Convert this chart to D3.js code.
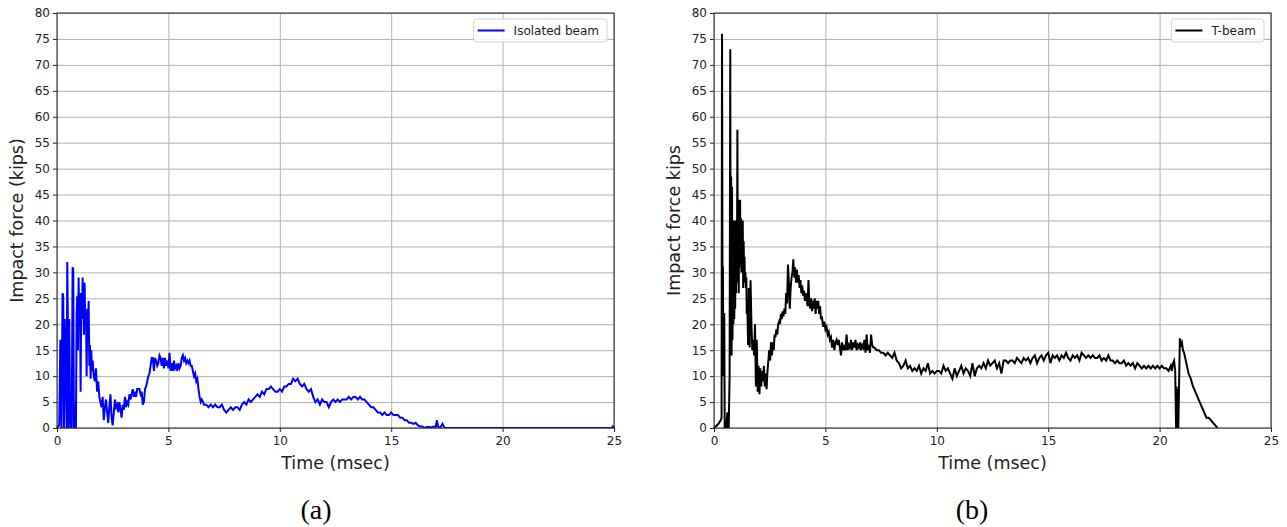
<!DOCTYPE html>
<html>
<head>
<meta charset="utf-8">
<script src="https://cdn.jsdelivr.net/npm/d3@7"></script>
<style>
  body { margin: 0; background: #fff; }
  svg { display: block; }
  .tick text { font-family: "DejaVu Sans", sans-serif; font-size: 12px; fill: #222; }
  .grid line { stroke: #b0b0b0; stroke-width: 1; }
  .grid path { display: none; }
</style>
</head>
<body>
<svg width="1287" height="527"></svg>
<script>

//// DATA ////

// x and y ticks shared by both panels
var xTicks = [0, 5, 10, 15, 20, 25];
var yTicks = [0, 5, 10, 15, 20, 25, 30, 35, 40, 45, 50, 55, 60, 65, 70, 75, 80];

// (a) isolated beam: time (msec), impact force (kips)
var isoTime = [0, 0.1, 0.15, 0.2, 0.25, 0.28, 0.31, 0.35, 0.4, 0.43, 0.46, 0.49, 0.52, 0.55, 0.58, 0.62, 0.66, 0.7, 0.73, 0.76,
  0.79, 0.82, 0.85, 0.88, 0.91, 0.94, 0.97, 1.0, 1.03, 1.06, 1.09, 1.12, 1.15, 1.18, 1.21, 1.24, 1.27, 1.3, 1.33, 1.36,
  1.39, 1.42, 1.45, 1.48, 1.51, 1.54, 1.57, 1.6, 1.65, 1.7, 1.75, 1.8, 1.85, 1.9, 1.95, 2.0, 2.05, 2.1, 2.15, 2.2,
  2.25, 2.3, 2.35, 2.4, 2.45, 2.5, 2.55, 2.6, 2.65, 2.7, 2.75, 2.8, 2.85, 2.9, 2.95, 3.0, 3.05, 3.1, 3.15, 3.2,
  3.25, 3.3, 3.4, 3.45, 3.5, 3.55, 3.6, 3.7, 3.75, 3.8, 3.85, 3.9, 3.95, 4.0, 4.05, 4.1, 4.15, 4.2, 4.25, 4.3,
  4.35, 4.4, 4.45, 4.5, 4.55, 4.6, 4.65, 4.7, 4.75, 4.8, 4.85, 4.9, 4.95, 5.0, 5.05, 5.1, 5.15, 5.2, 5.25, 5.3,
  5.35, 5.4, 5.45, 5.5, 5.55, 5.6, 5.65, 5.7, 5.75, 5.8, 5.85, 5.9, 5.95, 6.0, 6.05, 6.1, 6.15, 6.2, 6.25, 6.3,
  6.35, 6.4, 6.45, 6.5, 6.6, 6.7, 6.8, 6.9, 7.0, 7.1, 7.2, 7.3, 7.4, 7.5, 7.6, 7.7, 7.8, 7.9, 8.0, 8.1,
  8.2, 8.3, 8.4, 8.5, 8.6, 8.7, 8.8, 8.9, 9.0, 9.1, 9.2, 9.3, 9.4, 9.5, 9.6, 9.7, 9.8, 9.9, 10.0, 10.1,
  10.2, 10.3, 10.4, 10.5, 10.6, 10.7, 10.8, 10.9, 11.0, 11.1, 11.2, 11.3, 11.4, 11.5, 11.6, 11.7, 11.8, 11.9, 12.0, 12.1,
  12.2, 12.3, 12.4, 12.5, 12.6, 12.7, 12.8, 12.9, 13.0, 13.1, 13.2, 13.3, 13.4, 13.5, 13.6, 13.7, 13.8, 13.9, 14.0, 14.1,
  14.2, 14.3, 14.4, 14.5, 14.6, 14.7, 14.8, 14.9, 15.0, 15.1, 15.2, 15.3, 15.4, 15.5, 15.6, 15.7, 15.8, 15.9, 16.0, 16.1,
  16.2, 16.3, 16.4, 16.5, 16.6, 16.7, 16.8, 16.9, 17.0, 17.05, 17.1, 17.2, 17.3, 17.4, 17.5, 24.9, 24.95, 25];
var isoForce = [0, 0.5, 17, 0, 26, 25.5, 0, 21, 9, 0, 32, 20, 0, 21, 6, 0, 0, 31, 30.5, 0,
  0, 5, 0, 22, 25.5, 15, 29, 20, 26, 7, 26, 21, 29, 24, 18, 28, 20, 22.5, 10, 23,
  17, 24.5, 12, 16, 9.5, 15, 11, 13, 10, 9, 11.5, 7, 9, 6, 5, 4, 6, 1.5, 4, 5.5,
  3, 1, 4, 6.5, 2, 0.5, 3, 5.5, 4, 4.5, 3, 5, 3.5, 2, 4.5, 3.5, 6, 4, 5, 4.5,
  6.5, 5.5, 7.5, 6, 7, 6, 7.5, 7.5, 6.5, 7, 4.5, 5, 7.5, 8, 9, 10, 10.5, 12, 13.5, 13.5,
  11, 13.5, 13, 12, 12.5, 14, 13.5, 12, 13.5, 11.5, 13.5, 12, 13, 11.5, 14.5, 11, 12.5, 11, 13, 11.5,
  12, 11, 12.5, 11.5, 12, 13.5, 14, 13, 13.5, 12.5, 13, 12.5, 13, 12, 12, 11, 10, 10.5, 9, 9.5,
  7.5, 6, 5, 5.5, 4.5, 4.5, 4, 4.5, 4, 4.5, 4, 4, 4.5, 3.5, 3, 3.5, 4, 3.5, 4, 4,
  3.5, 4.5, 5, 4.5, 5.5, 5, 5.5, 6, 6.5, 6, 7, 6.5, 7.5, 7.5, 8, 7.5, 7, 7, 7.5, 7,
  8, 8, 8.5, 8.5, 9.5, 9, 9.5, 8.5, 8, 8.5, 7.5, 7, 7.5, 6, 5, 5.5, 4.5, 5.5, 5, 5,
  4, 5, 5.5, 5, 5.5, 5, 5.5, 5.5, 5.5, 6, 5.5, 6, 6, 5.5, 6, 5.5, 5.5, 5, 4.5, 4,
  4, 3.5, 3, 3, 2.5, 3, 2.5, 2.5, 3, 2.5, 2.5, 2.5, 2, 2, 1.5, 1.5, 1, 1, 0.8, 1,
  0.5, 0.3, 0.3, 0, 0.2, 0.2, 0.1, 0.3, 0.2, 1.5, 0.3, 0, 0.8, 0, 0, 0, 0.3, 0];

// (b) T-beam: time (msec), impact force (kips)
var tbTime = [0, 0.1, 0.2, 0.3, 0.34, 0.36, 0.38, 0.4, 0.42, 0.44, 0.46, 0.48, 0.55, 0.6, 0.62, 0.66, 0.7,
  0.73, 0.75, 0.77, 0.79, 0.81, 0.83, 0.85, 0.87, 0.89, 0.91, 0.93, 0.95, 0.97, 0.99, 1.01, 1.03, 1.05, 1.07, 1.09,
  1.11, 1.13, 1.15, 1.17, 1.19, 1.21, 1.23, 1.25, 1.27, 1.29, 1.31, 1.33, 1.35, 1.37, 1.39, 1.41, 1.43, 1.45, 1.47,
  1.5, 1.53, 1.56, 1.6, 1.64, 1.68,
  1.72, 1.76, 1.8, 1.84, 1.88, 1.92, 1.96, 2.0, 2.04, 2.08,
  2.12, 2.16, 2.2, 2.24, 2.28, 2.32, 2.36, 2.4, 2.44, 2.48, 2.52, 2.56, 2.6, 2.64, 2.68, 2.72, 2.76, 2.8, 2.84, 2.88,
  2.92, 2.96, 3.0, 3.04, 3.08, 3.12, 3.16, 3.2, 3.24, 3.28, 3.32, 3.36, 3.4, 3.44, 3.48, 3.52, 3.56, 3.6, 3.64, 3.68,
  3.72, 3.76, 3.8, 3.84, 3.88, 3.92, 3.96, 4.0, 4.04, 4.08, 4.12, 4.16, 4.2, 4.24, 4.28, 4.32, 4.36, 4.4, 4.44, 4.48,
  4.52, 4.56, 4.6, 4.64, 4.68, 4.72, 4.76, 4.8, 4.84, 4.9, 4.95, 5.0, 5.05, 5.1, 5.15, 5.2, 5.25, 5.3, 5.35, 5.4,
  5.45, 5.5, 5.55, 5.6, 5.65, 5.7, 5.75, 5.8, 5.85, 5.9, 5.95, 6.0, 6.05, 6.1, 6.15, 6.2, 6.25, 6.3, 6.35, 6.4,
  6.45, 6.5, 6.55, 6.6, 6.65, 6.7, 6.75, 6.8, 6.85, 6.9, 6.95, 7.0, 7.05, 7.1, 7.15, 7.2, 7.3, 7.4, 7.5, 7.6,
  7.7, 7.8, 7.9, 8.0, 8.1, 8.2, 8.3, 8.4, 8.5, 8.6, 8.7, 8.8, 8.9, 9.0, 9.1, 9.2, 9.3, 9.4, 9.5, 9.6,
  9.7, 9.8, 9.9, 10.0, 10.1, 10.2, 10.3, 10.4, 10.5, 10.6, 10.7, 10.8, 10.9, 11.0, 11.1, 11.2, 11.3, 11.4, 11.5, 11.6,
  11.7, 11.8, 11.9, 12.0, 12.1, 12.2, 12.3, 12.4, 12.5, 12.6, 12.7, 12.8, 12.9, 13.0, 13.1, 13.2, 13.3, 13.4, 13.5, 13.6,
  13.7, 13.8, 13.9, 14.0, 14.1, 14.2, 14.3, 14.4, 14.5, 14.6, 14.7, 14.8, 14.9, 15.0, 15.1, 15.2, 15.3, 15.4, 15.5, 15.6,
  15.7, 15.8, 15.9, 16.0, 16.1, 16.2, 16.3, 16.4, 16.5, 16.6, 16.7, 16.8, 16.9, 17.0, 17.1, 17.2, 17.3, 17.4, 17.5, 17.6,
  17.7, 17.8, 17.9, 18.0, 18.1, 18.2, 18.3, 18.4, 18.5, 18.6, 18.7, 18.8, 18.9, 19.0, 19.1, 19.2, 19.3, 19.4, 19.5, 19.6,
  19.7, 19.8, 19.9, 20.0, 20.1, 20.2, 20.3, 20.4, 20.5, 20.55, 20.6, 20.65, 20.7, 20.74, 20.76, 20.78, 20.8, 20.82, 20.84, 20.88,
  20.91, 20.95, 21.0, 21.05, 21.1, 21.2, 21.3, 21.4, 21.5, 21.6, 21.7, 21.8, 21.9, 22.0, 22.1, 22.2, 22.3, 22.4, 22.5, 22.6];
var tbForce = [0, 0.4, 0.8, 1.5, 2, 76, 31, 31, 10, 22, 22, 0, 0, 3, 0, 0, 10,
  73, 15, 48.5, 14, 46.5, 17, 35, 20, 40, 21, 33, 23, 40, 26, 35, 28, 57.5, 30, 44,
  26, 41, 35, 44, 31, 40.5, 30, 40, 33, 40, 27, 36, 30, 33, 28, 30, 27, 29, 22,
  23, 16, 27, 15.5, 28.5, 20,
  15, 17, 14, 20, 8, 17, 7, 12, 6.5, 11.5,
  8, 11, 9, 12, 8, 10.5, 7.5, 11, 13, 15, 13, 16.5, 14, 16.5, 15, 18, 17.5, 19, 18, 20,
  20.5, 20, 22, 21, 22.5, 21.5, 23, 22, 26, 24, 31.5, 28, 23, 27, 29, 30, 32.5, 29, 31, 28,
  30.5, 28, 29.5, 27, 28.5, 26, 27.5, 25.5, 26.5, 24.5, 26, 25, 23.5, 28.5, 24, 23, 25, 22.5, 24.5, 23,
  25, 22, 24.5, 23, 24.5, 22, 23.5, 21, 21.5, 19.5, 20.5, 19, 19.5, 18, 18.5, 17, 17.5, 15.5, 17, 15,
  16.5, 17, 16, 17, 15.5, 14, 16.5, 15, 16, 15, 18, 15, 16, 15.5, 17, 15, 16.5, 15.5, 17, 15,
  16, 15.5, 16.5, 15, 16, 15.5, 17, 14.5, 18, 15, 16, 14.5, 18, 16, 15.5, 15.5, 15, 15, 14.5, 14.5,
  14, 14.5, 14, 13.5, 14.5, 13, 12.5, 11.5, 12, 13, 11.5, 12, 11, 11.5, 11, 12, 10.5, 11.5, 11, 12.5,
  10.5, 11, 10.5, 11, 11, 10.5, 12, 11, 11.5, 10.5, 9.5, 11.5, 10, 11, 12, 10.5, 11.5, 11, 10, 12.5,
  10, 11.5, 12, 11.5, 12.5, 11.5, 13, 12, 12.5, 13, 11.5, 12.5, 10.5, 13, 13, 12.5, 13, 13, 12.5, 13.5,
  13, 12.5, 13.5, 13, 13.5, 12.5, 13.5, 14, 12.5, 13.5, 14, 13, 14, 14.5, 12.5, 14, 13.5, 14, 13, 14,
  13.5, 14.5, 13.5, 13, 14, 13.5, 14, 13, 14.5, 14, 13.5, 14, 13.5, 14, 13.5, 13.5, 14, 13, 13.5, 13,
  14, 13, 13, 12.5, 13, 12.5, 12.5, 13, 12, 12.5, 12, 12.5, 11.5, 12.5, 12, 11.5, 12, 11.5, 12, 11.5,
  12, 11.5, 12, 11.5, 12, 11.5, 11.5, 11, 12, 11, 12.5, 13, 11, 0, 8, 0, 7.5, 0, 0, 10,
  17.3, 16, 16.5, 15, 14.5, 12.5, 10.5, 9.5, 8, 7, 6, 5, 4, 3, 2, 2, 1.5, 1, 0.5, 0];

//// DRAWING ////

var svg = d3.select("svg");

var panels = [
  { left: 57, time: isoTime, force: isoForce, color: "#0000ff", legend: "Isolated beam",
    ylabel: "Impact force (kips)", ylabelX: 17, caption: "(a)", captionX: 316 },
  { left: 714, time: tbTime, force: tbForce, color: "#000000", legend: "T-beam",
    ylabel: "Impact force kips", ylabelX: 674, caption: "(b)", captionX: 972 }
];

var plotTop = 13, plotW = 557, plotH = 415;

panels.forEach(function (p) {
  var x = d3.scaleLinear().domain([0, 25]).range([0, plotW]);
  var y = d3.scaleLinear().domain([0, 80]).range([plotH, 0]);

  var g = svg.append("g").attr("transform", "translate(" + p.left + "," + plotTop + ")");

  // grid
  g.append("g").attr("class", "grid")
    .attr("transform", "translate(0," + plotH + ")")
    .call(d3.axisBottom(x).tickValues(xTicks).tickSize(-plotH).tickFormat(""));
  g.append("g").attr("class", "grid")
    .call(d3.axisLeft(y).tickValues(yTicks).tickSize(-plotW).tickFormat(""));

  // the series
  var pts = p.time.map(function (t, i) { return [t, p.force[i]]; });
  g.append("defs").append("clipPath").attr("id", "clip" + p.left)
    .append("rect").attr("x", -2).attr("y", -2).attr("width", plotW + 4).attr("height", plotH + 2);
  g.append("path")
    .datum(pts)
    .attr("clip-path", "url(#clip" + p.left + ")")
    .attr("fill", "none")
    .attr("stroke", p.color)
    .attr("stroke-width", 2)
    .attr("stroke-linejoin", "miter")
    .attr("d", d3.line().x(function (d) { return x(d[0]); }).y(function (d) { return y(d[1]); }));

  // frame
  g.append("rect").attr("width", plotW).attr("height", plotH)
    .attr("fill", "none").attr("stroke", "#222").attr("stroke-width", 1);

  // axes
  var xa = g.append("g").attr("transform", "translate(0," + plotH + ")")
    .call(d3.axisBottom(x).tickValues(xTicks).tickSize(4).tickPadding(4));
  var ya = g.append("g")
    .call(d3.axisLeft(y).tickValues(yTicks).tickSize(4).tickPadding(3));
  [xa, ya].forEach(function (a) {
    a.select(".domain").remove();
    a.selectAll(".tick line").attr("stroke", "#222");
  });

  // axis titles
  g.append("text")
    .attr("x", plotW / 2).attr("y", plotH + 41)
    .attr("text-anchor", "middle")
    .style("font-family", "DejaVu Sans, sans-serif").style("font-size", "17.5px").attr("fill", "#222")
    .text("Time (msec)");
  svg.append("text")
    .attr("transform", "translate(" + p.ylabelX + "," + (plotTop + plotH / 2) + ") rotate(-90)")
    .attr("text-anchor", "middle").attr("dy", "0.35em")
    .style("font-family", "DejaVu Sans, sans-serif").style("font-size", "17.5px").attr("fill", "#222")
    .text(p.ylabel);

  // legend
  var lg = g.append("g");
  var lt = lg.append("text")
    .style("font-family", "DejaVu Sans, sans-serif").style("font-size", "12px").attr("fill", "#222")
    .text(p.legend);
  var tw = lt.node().getComputedTextLength();
  var bw = tw + 48, bx = plotW - 7 - bw;
  lg.insert("rect", "text")
    .attr("x", bx).attr("y", 6).attr("width", bw).attr("height", 23)
    .attr("rx", 3).attr("fill", "#fff").attr("fill-opacity", 0.85)
    .attr("stroke", "#d5d5d5");
  lg.append("line")
    .attr("x1", bx + 4).attr("x2", bx + 31).attr("y1", 17.5).attr("y2", 17.5)
    .attr("stroke", p.color).attr("stroke-width", 2);
  lt.attr("x", bx + 40).attr("y", 22);

  // caption
  svg.append("text")
    .attr("x", p.captionX).attr("y", 519)
    .attr("text-anchor", "middle")
    .style("font-family", "Liberation Serif, serif").style("font-size", "28px").attr("fill", "#000")
    .text(p.caption);
});
</script>
</body>
</html>
